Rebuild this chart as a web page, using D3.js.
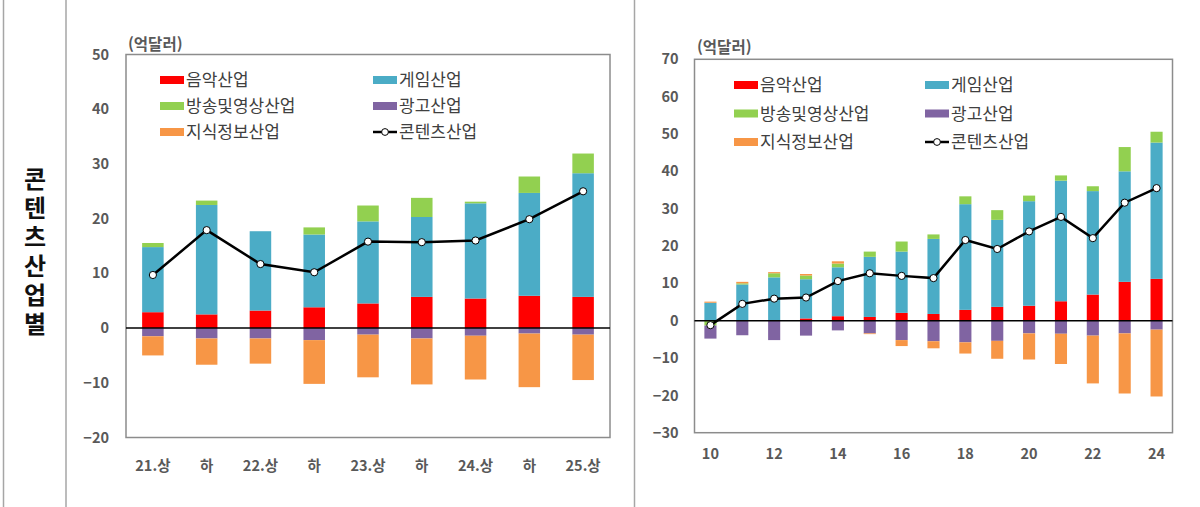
<!DOCTYPE html>
<html lang="ko">
<head>
<meta charset="UTF-8">
<title>콘텐츠산업별</title>
<script src="https://cdn.jsdelivr.net/npm/d3@7"></script>
<style>
  body { margin: 0; background: #fff; }
  text { font-family: "Noto Sans CJK KR", "Noto Sans", sans-serif; }
</style>
</head>
<body>
<svg width="1200" height="507" id="svgcontainer"></svg>
<script>
    // 반기 (left panel)
    const halfLabels = ['21.상', '하', '22.상', '하', '23.상', '하', '24.상', '하', '25.상'];
    const halfMusic  = [2.9, 2.5, 3.2, 3.8, 4.5, 5.7, 5.4, 5.9, 5.7];
    const halfGame   = [11.9, 20.0, 14.5, 13.3, 15.0, 14.6, 17.4, 18.8, 22.6];
    const halfBroad  = [0.75, 0.8, 0.0, 1.3, 2.9, 3.5, 0.3, 3.0, 3.6];
    const halfAd     = [-1.5, -1.9, -1.9, -2.2, -1.2, -1.9, -1.4, -1.0, -1.2];
    const halfInfo   = [-3.5, -4.8, -4.6, -8.0, -7.8, -8.4, -8.0, -9.8, -8.3];
    const halfTotal  = [9.7, 17.9, 11.7, 10.2, 15.8, 15.7, 16.0, 19.9, 25.0];
    const halfTicks  = [-20, -10, 0, 10, 20, 30, 40, 50];

    // 연도 (right panel)
    const yearLabels = ['10','11','12','13','14','15','16','17','18','19','20','21','22','23','24'];
    const yearMusic  = [0, 0, 0, 0.6, 1.2, 1.0, 2.1, 1.8, 2.9, 3.7, 4.0, 5.2, 7.0, 10.4, 11.2];
    const yearGame   = [4.8, 9.7, 11.6, 10.5, 13.1, 16.1, 16.4, 20.1, 28.3, 23.3, 28.0, 32.3, 27.7, 29.6, 36.5];
    const yearBroad  = [-1.3, 0.3, 1.1, 1.0, 1.0, 1.4, 2.7, 1.2, 2.1, 2.6, 1.5, 1.4, 1.3, 6.5, 2.9];
    const yearAd     = [-3.5, -3.9, -5.2, -4.0, -2.6, -3.4, -5.2, -5.5, -5.8, -5.4, -3.4, -3.5, -4.0, -3.4, -2.4];
    const yearInfo   = [0.3, 0.4, 0.3, 0.4, 0.6, -0.2, -1.6, -1.9, -3.0, -4.8, -7.0, -8.1, -12.8, -16.1, -17.9];
    const yearTotal  = [-1.2, 4.5, 5.9, 6.2, 10.6, 12.7, 12.0, 11.4, 21.6, 19.2, 23.9, 27.8, 22.1, 31.6, 35.5];
    const yearTicks  = [-30, -20, -10, 0, 10, 20, 30, 40, 50, 60, 70];

    const seriesNames  = ['음악산업', '게임산업', '방송및영상산업', '광고산업', '지식정보산업'];
    const seriesColors = ['#FF0000', '#4BACC6', '#92D050', '#8064A2', '#F79646'];
    const lineName = '콘텐츠산업';

    const svg = d3.select('#svgcontainer');

    // side title + divider lines
    svg.append('line').attr('x1', 3.5).attr('x2', 3.5).attr('y1', 0).attr('y2', 507).attr('stroke', '#a6a6a6').attr('stroke-width', 1.5);
    svg.append('line').attr('x1', 66).attr('x2', 66).attr('y1', 0).attr('y2', 507).attr('stroke', '#a6a6a6').attr('stroke-width', 1.5);
    svg.append('line').attr('x1', 634.5).attr('x2', 634.5).attr('y1', 0).attr('y2', 507).attr('stroke', '#a6a6a6').attr('stroke-width', 1.5);
    svg.append('text').attr('x', 35).attr('y', 167)
        .style('writing-mode', 'vertical-rl').style('letter-spacing', '5px')
        .attr('font-size', 24).attr('font-weight', 'bold')
        .attr('fill', '#111').text('콘텐츠산업별');

    function drawPanel(p) {
        const n = p.labels.length;
        const rows = d3.range(n).map(i => ({
            i: i,
            '음악산업': p.music[i], '게임산업': p.game[i], '방송및영상산업': p.broad[i],
            '광고산업': p.ad[i], '지식정보산업': p.info[i]
        }));
        const stacked = d3.stack().keys(seriesNames).offset(d3.stackOffsetDiverging)(rows);

        const xScale = d3.scaleBand().domain(d3.range(n)).range([p.left, p.right]).paddingInner(p.pad).paddingOuter(p.pad / 2);
        const yScale = d3.scaleLinear().domain(p.domain).range([p.bottom, p.top]);

        const g = svg.append('g');

        // frame
        g.append('rect').attr('x', p.left).attr('y', p.top)
            .attr('width', p.right - p.left).attr('height', p.bottom - p.top)
            .attr('fill', 'none').attr('stroke', '#8c8c8c').attr('stroke-width', 1.5);

        // y axis labels
        const yAxis = d3.axisLeft(yScale).tickValues(p.ticks).tickSize(0).tickPadding(p.yPad);
        const ya = g.append('g').attr('transform', `translate(${p.left},0)`).call(yAxis);
        ya.select('.domain').remove();
        ya.selectAll('.tick text').attr('font-size', 14.5).attr('font-weight', 'bold').attr('fill', '#595959')
            .attr('font-family', '"Noto Sans CJK KR", sans-serif');

        // x axis labels
        const xAxis = d3.axisBottom(xScale).tickSize(0).tickPadding(p.xPad)
            .tickFormat(i => p.labels[i]);
        const xa = g.append('g').attr('transform', `translate(0,${p.bottom})`).call(xAxis);
        xa.select('.domain').remove();
        xa.selectAll('.tick').filter(i => !p.showLabel(i)).remove();
        xa.selectAll('.tick text').attr('font-size', 14.5).attr('font-weight', 'bold').attr('fill', '#595959')
            .attr('font-family', '"Noto Sans CJK KR", sans-serif');

        // bars
        g.selectAll('.layer').data(stacked).join('g').attr('class', 'layer')
            .attr('fill', (d, k) => seriesColors[k])
            .selectAll('rect').data(d => d).join('rect')
            .attr('x', d => xScale(d.data.i))
            .attr('width', xScale.bandwidth())
            .attr('y', d => yScale(Math.max(d[0], d[1])))
            .attr('height', d => Math.abs(yScale(d[0]) - yScale(d[1])));

        // zero line
        g.append('line').attr('x1', p.left).attr('x2', p.right)
            .attr('y1', yScale(0)).attr('y2', yScale(0))
            .attr('stroke', '#000').attr('stroke-width', 1.5);

        // total line
        const cx = i => xScale(i) + xScale.bandwidth() / 2;
        const line = d3.line().x((d, i) => cx(i)).y(d => yScale(d));
        g.append('path').datum(p.total).attr('d', line)
            .attr('fill', 'none').attr('stroke', '#000').attr('stroke-width', 2.5);
        g.selectAll('.dot').data(p.total).join('circle').attr('class', 'dot')
            .attr('cx', (d, i) => cx(i)).attr('cy', d => yScale(d)).attr('r', 3.6)
            .attr('fill', '#fff').attr('stroke', '#000').attr('stroke-width', 1);

        // unit
        g.append('text').attr('x', p.unitX).attr('y', p.unitY).attr('font-size', 15.5)
            .attr('font-weight', 'bold').attr('fill', '#595959').text('(억달러)');

        // legend
        const items = seriesNames.map((s, k) => ({ name: s, color: seriesColors[k] })).concat([{ name: lineName, color: null }]);
        const lg = g.selectAll('.leg').data(items).join('g').attr('class', 'leg')
            .attr('transform', (d, k) => `translate(${p.legX[k % 2]},${p.legY + Math.floor(k / 2) * p.legGap})`);
        lg.filter(d => d.color).append('rect').attr('x', 0).attr('y', -4).attr('width', 24).attr('height', 8)
            .attr('fill', d => d.color);
        lg.filter(d => !d.color).append('line').attr('x1', 0).attr('x2', 24).attr('y1', 0).attr('y2', 0)
            .attr('stroke', '#000').attr('stroke-width', 2.5);
        lg.filter(d => !d.color).append('circle').attr('cx', 12).attr('cy', 0).attr('r', 3.4)
            .attr('fill', '#fff').attr('stroke', '#000').attr('stroke-width', 1);
        lg.append('text').attr('x', 26).attr('y', 0).attr('dy', '0.36em').attr('font-size', 17)
            .attr('fill', '#404040').text(d => d.name);
    }

    drawPanel({
        labels: halfLabels, music: halfMusic, game: halfGame, broad: halfBroad, ad: halfAd, info: halfInfo,
        total: halfTotal, ticks: halfTicks, domain: [-20, 50],
        left: 126, right: 610, top: 54.5, bottom: 437.5, pad: 0.6,
        yPad: 17, xPad: 23, showLabel: i => true,
        unitX: 128, unitY: 50, legX: [160, 373], legY: 80, legGap: 26
    });

    drawPanel({
        labels: yearLabels, music: yearMusic, game: yearGame, broad: yearBroad, ad: yearAd, info: yearInfo,
        total: yearTotal, ticks: yearTicks, domain: [-30, 70],
        left: 694.5, right: 1172.5, top: 59.3, bottom: 432.7, pad: 0.62,
        yPad: 16, xPad: 16, showLabel: i => i % 2 === 0,
        unitX: 697, unitY: 53, legX: [734, 925], legY: 85, legGap: 28.5
    });
</script>
</body>
</html>
